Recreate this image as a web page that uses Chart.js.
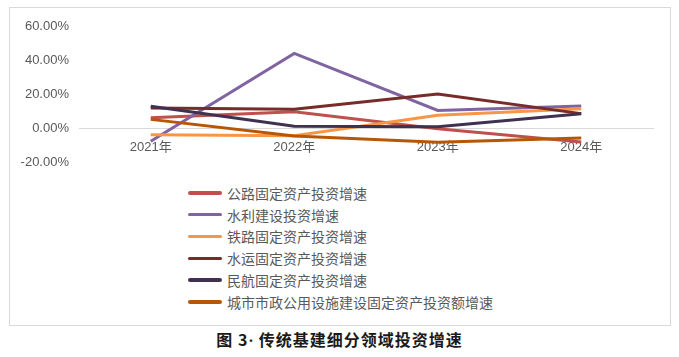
<!DOCTYPE html>
<html><head><meta charset="utf-8">
<script src="https://cdn.jsdelivr.net/npm/chart.js@4/dist/chart.umd.min.js"></script>
<style>
html,body{margin:0;padding:0;background:#fff;}
body{width:679px;height:357px;position:relative;overflow:hidden;font-family:"Liberation Sans","Noto Sans CJK SC",sans-serif;}
#frame{position:absolute;left:9px;top:7px;width:660px;height:317px;border:1px solid #d9d9d9;}
#wrap{position:absolute;left:1px;top:1px;width:660px;height:171px;}
#legend{position:absolute;left:178px;top:174px;}
.item{height:21.8px;display:flex;align-items:center;font-size:14px;color:#595959;font-family:"Noto Sans CJK SC",sans-serif;}
.sw{width:34px;height:3.5px;margin-right:5px;border-radius:2px;}
#caption{position:absolute;left:0;width:679px;top:327px;text-align:center;font-family:"Noto Sans CJK SC",serif;font-weight:bold;font-size:16px;letter-spacing:1px;color:#1a1a1a;}
#caption .dot{font-family:"Liberation Serif",serif;margin-right:4px;}
</style></head>
<body>
<div id="frame"><div id="wrap"><canvas id="c"></canvas></div><div id="legend"></div></div>
<div id="caption">图 3<span class="dot">·</span>传统基建细分领域投资增速</div>
<script>
const categories = ['2021年','2022年','2023年','2024年'];
const seriesNames = ['公路固定资产投资增速','水利建设投资增速','铁路固定资产投资增速','水运固定资产投资增速','民航固定资产投资增速','城市市政公用设施建设固定资产投资额增速'];
const highway = [6.3, 9.8, -0.3, -8.0];
const waterConservancy = [-7.6, 44.3, 10.6, 13.2];
const railway = [-3.8, -4.3, 7.8, 11.6];
const waterTransport = [12.0, 11.3, 20.3, 8.7];
const civilAviation = [13.0, 1.2, 1.0, 8.6];
const municipal = [5.3, -4.5, -8.2, -5.7];
const yTicks = [-20, 0, 20, 40, 60];
const colors = ['#c0504d','#8064a2','#f79646','#772c2a','#403151','#b65708'];

const allSeries = [highway, waterConservancy, railway, waterTransport, civilAviation, municipal];
const datasets = allSeries.map((d, i) => ({
  label: seriesNames[i], data: d, borderColor: colors[i], backgroundColor: colors[i],
  borderWidth: 3, pointRadius: 0, tension: 0, fill: false, order: allSeries.length - i
}));

new Chart(document.getElementById('c'), {
  type: 'line',
  data: { labels: categories, datasets },
  options: {
    responsive: true, maintainAspectRatio: false, animation: false,
    layout: { padding: { top: 17, right: 18, bottom: 8, left: 0 } },
    plugins: { legend: { display: false }, tooltip: { enabled: false } },
    scales: {
      x: {
        position: { y: 0 },
        offset: true,
        grid: { display: false, drawTicks: false },
        border: { display: true, color: '#d9d9d9', width: 1 },
        ticks: { color: '#595959', font: { size: 13, family: '"Liberation Sans","Noto Sans CJK SC",sans-serif' }, padding: 11, maxRotation: 0 }
      },
      y: {
        min: -20, max: 60,
        afterBuildTicks: s => { s.ticks = yTicks.map(v => ({ value: v })); },
        afterFit: s => { s.width = 68; },
        grid: { display: false, drawTicks: false },
        border: { display: false },
        ticks: { color: '#595959', padding: 10, font: { size: 13, family: '"Liberation Sans",sans-serif' }, callback: v => v.toFixed(2) + '%' }
      }
    }
  }
});

const leg = document.getElementById('legend');
datasets.forEach(ds => {
  const it = document.createElement('div'); it.className = 'item';
  const sw = document.createElement('span'); sw.className = 'sw'; sw.style.background = ds.borderColor;
  const tx = document.createElement('span'); tx.textContent = ds.label;
  it.appendChild(sw); it.appendChild(tx); leg.appendChild(it);
});
</script>
</body></html>
